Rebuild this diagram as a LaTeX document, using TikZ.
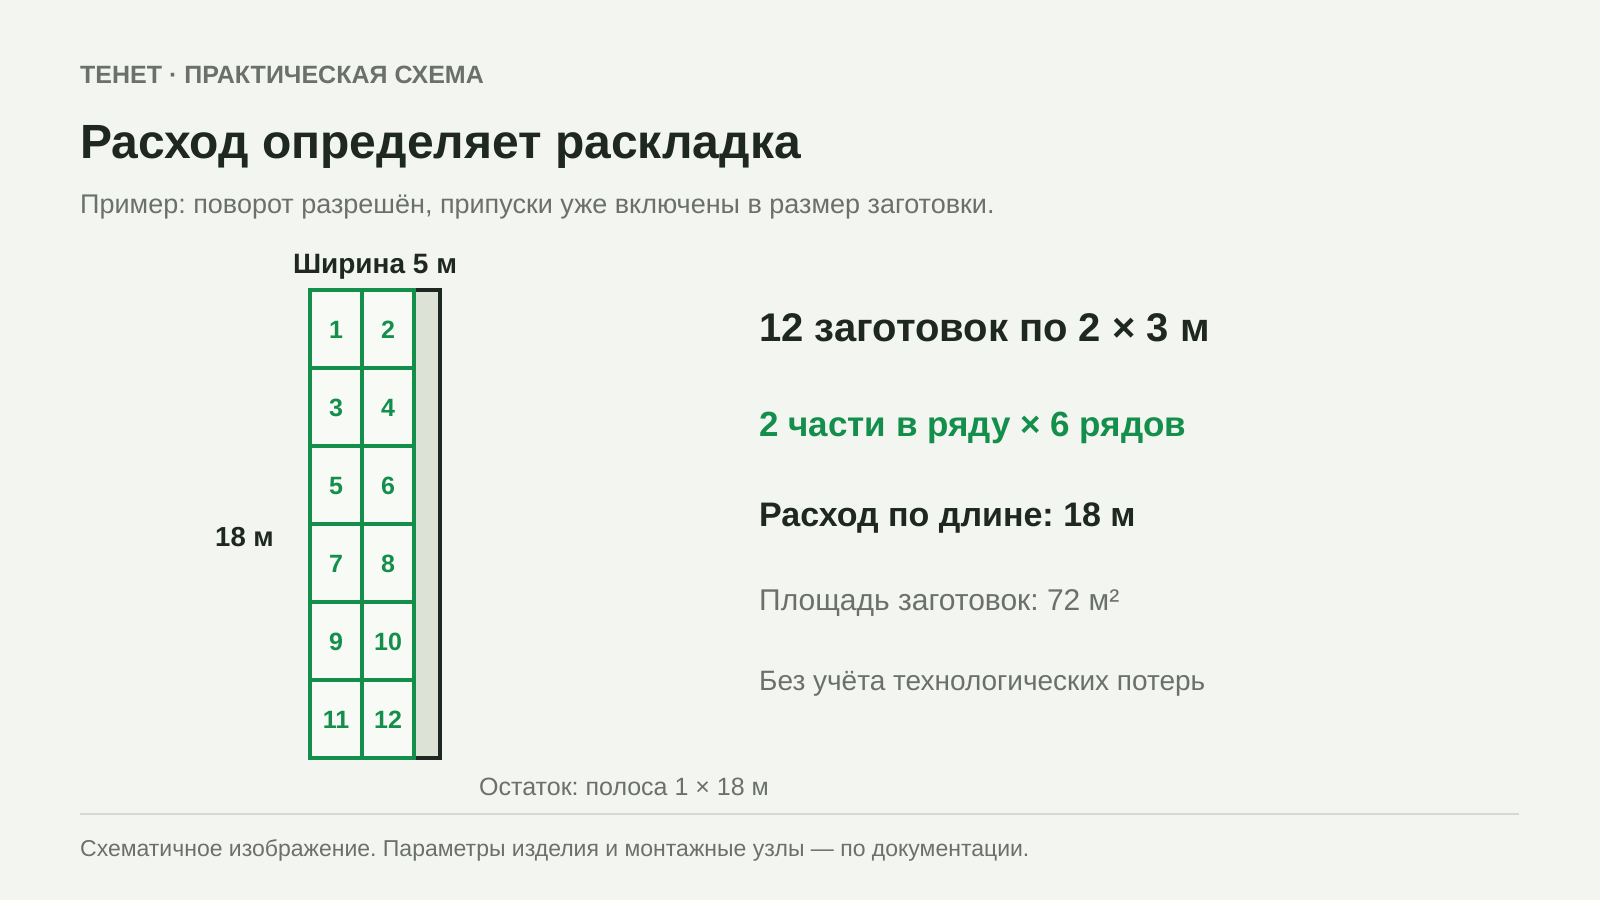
\documentclass[tikz,border=0pt]{standalone}
\usepackage{fontspec}
\setmainfont{Liberation Sans}
\definecolor{pagebg}{HTML}{F3F5F0}
\definecolor{inkdark}{HTML}{1E2721}
\definecolor{inkgray}{HTML}{6B716A}
\definecolor{cutgreen}{HTML}{138E4B}
\definecolor{piecefill}{HTML}{F8FAF6}
\definecolor{stripfill}{HTML}{DCE3D6}
\definecolor{rulegray}{HTML}{D4D9D1}
\newcommand{\fsz}[1]{\fontsize{#1}{#1}\selectfont}
\frenchspacing
\begin{document}
\begin{tikzpicture}[x=1pt,y=-1pt,inner sep=0pt,
    txt/.style={anchor=base west},
    cellnum/.style={font=\fsz{25}\bfseries,text=cutgreen}]
    \fill[pagebg](0,0) rectangle (1600,900);
    \useasboundingbox (0,0) rectangle (1600,900);
    % header
    \node[txt,font=\fsz{25}\bfseries,text=inkgray] (kicker) at (80,83.5){ТЕНЕТ · ПРАКТИЧЕСКАЯ СХЕМА};
    \node[txt,font=\fsz{48}\bfseries,text=inkdark] (title) at (80,158.5){Расход определяет раскладка};
    \node[txt,font=\fsz{27},text=inkgray] (subtitle) at (80,213){Пример: поворот разрешён, припуски уже включены в размер заготовки.};
    % sheet 5 x 18 m, 26px per m
    \fill[stripfill](414,290) rectangle (440,758);
    \draw[inkdark,line width=3.5pt](310,290) rectangle (440,758);
    \foreach \r in {0,...,5}{
        \foreach \c in {0,1}{
            \pgfmathtruncatemacro{\n}{2*\r+\c+1}
            \draw[cutgreen,fill=piecefill,line width=3.5pt](310+52*\c,290+78*\r) rectangle (362+52*\c,368+78*\r);
            \node[cellnum] (cell\n) at (336+52*\c,330+78*\r){\n};
        }
    }
    \node[anchor=base,font=\fsz{28}\bfseries,text=inkdark] (widthlbl) at (375,273){Ширина 5 м};
    \node[anchor=base east,font=\fsz{27.5}\bfseries,text=inkdark] (lengthlbl) at (274,546){18 м};
    \node[txt,font=\fsz{25},text=inkgray] (rest) at (479,795){Остаток: полоса 1 × 18 м};
    % summary
    \node[txt,font=\fsz{40}\bfseries,text=inkdark] (pieces) at (759,341){12 заготовок по 2 × 3 м};
    \node[txt,font=\fsz{35}\bfseries,text=cutgreen] (rows) at (759,436){2 части в ряду × 6 рядов};
    \node[txt,font=\fsz{34}\bfseries,text=inkdark] (use) at (759,526){Расход по длине: 18 м};
    \node[txt,font=\fsz{30},text=inkgray] (area) at (759,610.5){Площадь заготовок: 72 м²};
    \node[txt,font=\fsz{28},text=inkgray] (loss) at (759,690){Без учёта технологических потерь};
    % footer
    \draw[rulegray,line width=2pt](80,814)--(1519,814);
    \node[txt,font=\fsz{23},text=inkgray] (footer) at (80,856){Схематичное изображение. Параметры изделия и монтажные узлы — по документации.};
\end{tikzpicture}
\end{document}
